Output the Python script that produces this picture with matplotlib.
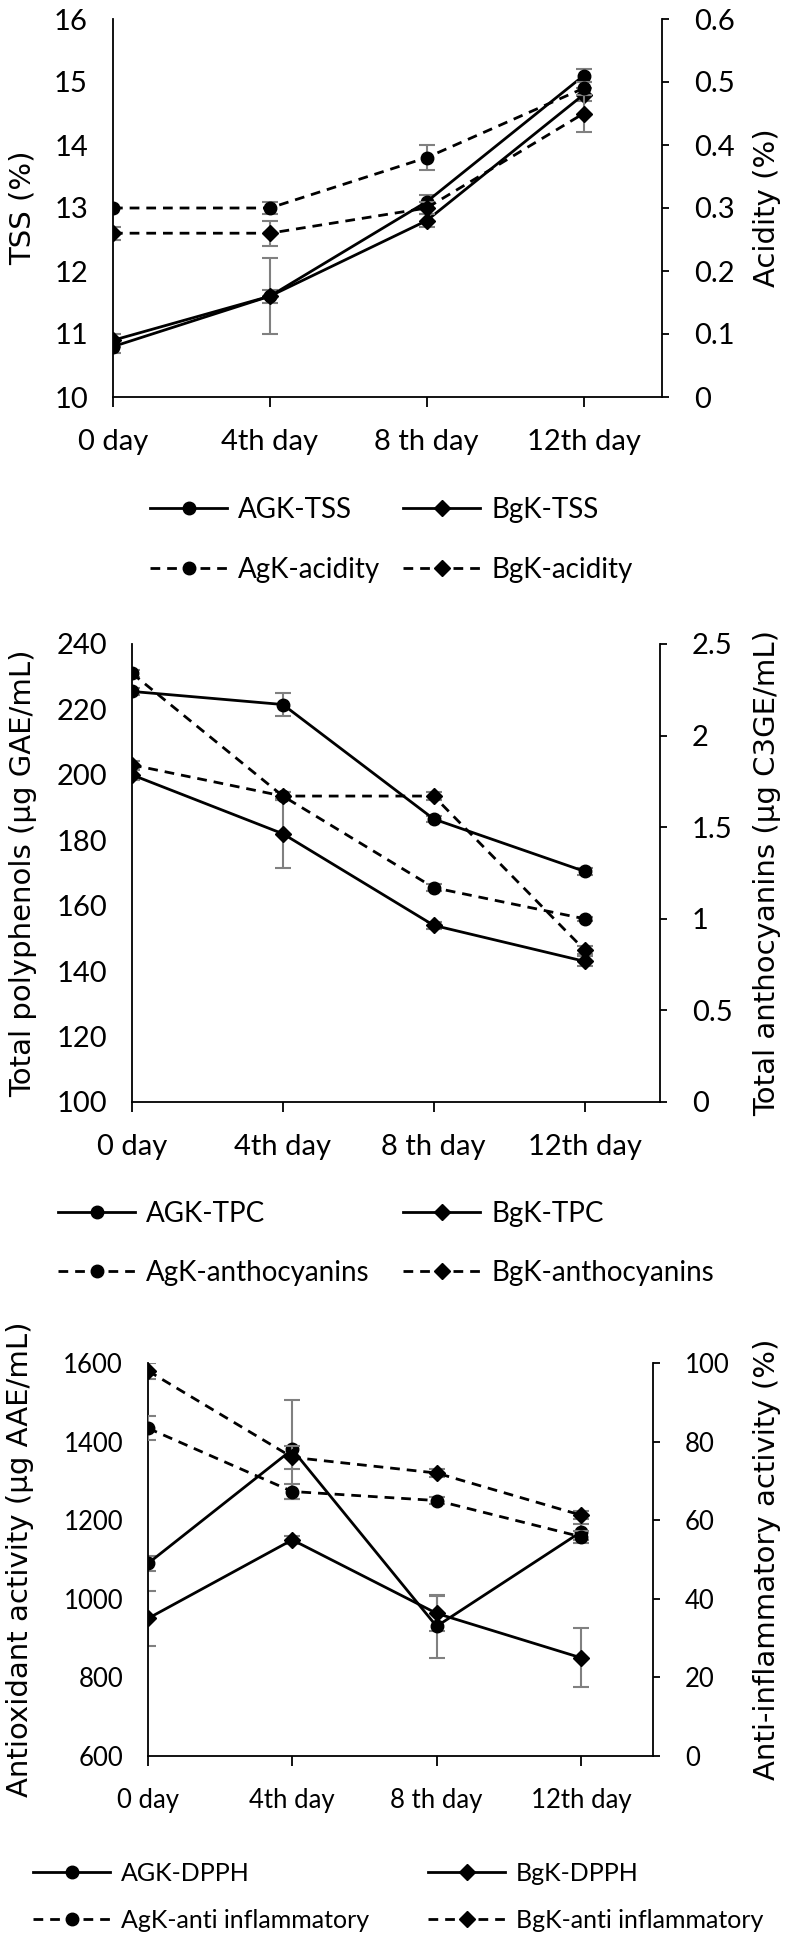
import matplotlib.pyplot as plt

# categories
days = ['0 day', '4th day', '8 th day', '12th day']

# panel 1 : TSS (left) / acidity (right)
agk_tss = [10.8, 11.6, 13.1, 15.1]
agk_tss_err = [0.1, 0.6, 0.1, 0.1]
bgk_tss = [10.9, 11.6, 12.8, 14.8]
bgk_tss_err = [0.1, 0.1, 0.1, 0.1]
agk_acid = [0.30, 0.30, 0.38, 0.49]
agk_acid_err = [0.0, 0.01, 0.02, 0.01]
bgk_acid = [0.26, 0.26, 0.30, 0.45]
bgk_acid_err = [0.01, 0.02, 0.01, 0.03]

# panel 2 : polyphenols (left) / anthocyanins (right)
agk_tpc = [225.5, 221.5, 186.5, 170.5]
agk_tpc_err = [1, 3.5, 1, 1]
bgk_tpc = [200, 182, 154, 143]
bgk_tpc_err = [1.5, 10.5, 1, 1.5]
agk_anth = [2.34, 1.67, 1.17, 1.0]
agk_anth_err = [0.02, 0.02, 0.02, 0.01]
bgk_anth = [1.84, 1.67, 1.67, 0.83]
bgk_anth_err = [0.02, 0.02, 0.02, 0.02]

# panel 3 : DPPH (left) / anti inflammatory (right)
agk_dpph = [1090, 1380, 930, 1170]
agk_dpph_err = [20, 125, 80, 20]
bgk_dpph = [950, 1150, 963, 850]
bgk_dpph_err = [70, 10, 45, 75]
agk_anti = [83.4, 67.3, 65, 55.8]
agk_anti_err = [3, 2, 1, 1.5]
bgk_anti = [98, 76, 72, 61.3]
bgk_anti_err = [2, 3, 1, 1]

W, H = 796, 1941
TICK_FONT = ['Lato', 'DejaVu Sans']
LABEL_FONT = ['DejaVu Sans']
GRAY = '#808080'

fig = plt.figure(figsize=(W / 100, H / 100), dpi=100)


def add_axes(left, right, top, bottom):
    return fig.add_axes([left / W, 1 - bottom / H, (right - left) / W, (bottom - top) / H])


def draw_series(ax, y, err, marker, dashed, label):
    x = list(range(len(days)))
    ax.errorbar(x, y, yerr=err, fmt='none', ecolor=GRAY, elinewidth=1.5,
                capsize=6, capthick=1.5, zorder=2)
    ls = (0, (3.5, 2.5)) if dashed else '-'
    ms = 9 if marker == 'o' else 8
    line, = ax.plot(x, y, color='black', lw=2, linestyle=ls, marker=marker,
                    markersize=ms, markerfacecolor='black', markeredgecolor='black',
                    label=label, zorder=3)
    return line


def panel(box, left_lim, left_ticks, right_lim, right_ticks, right_fmt,
          series, left_label, right_label, label_x, fs, leg):
    left, right, top, bottom = box
    ax = add_axes(left, right, top, bottom)
    ax2 = ax.twinx()
    ax.set_xlim(0, 3.5)
    ax.set_ylim(*left_lim)
    ax2.set_ylim(*right_lim)
    ax.set_yticks(left_ticks)
    ax.set_yticklabels([str(t) for t in left_ticks], fontfamily=TICK_FONT, fontsize=fs)
    ax2.set_yticks(right_ticks)
    ax2.set_yticklabels([right_fmt(t) for t in right_ticks], fontfamily=TICK_FONT, fontsize=fs)
    ax.set_xticks(range(len(days)))
    ax.set_xticklabels(days, fontfamily=TICK_FONT, fontsize=fs)
    for a in (ax, ax2):
        a.spines['top'].set_visible(False)
        for s in a.spines.values():
            s.set_linewidth(1.3)
    ax.spines['right'].set_visible(False)
    ax2.spines['left'].set_visible(False)
    ax2.spines['bottom'].set_visible(False)
    ax.tick_params(axis='y', length=0, pad=18)
    ax.tick_params(axis='x', length=7, width=1.3, pad=16)
    ax2.tick_params(axis='y', length=5, width=1.3, direction='out', pad=18)

    handles = []
    for (on_right, y, err, marker, dashed, label) in series:
        handles.append(draw_series(ax2 if on_right else ax, y, err, marker, dashed, label))

    lx, rx = label_x
    cy = 1 - (top + bottom) / 2 / H
    fig.text(lx / W, cy, left_label, rotation=90, ha='center', va='center',
             fontfamily=LABEL_FONT, fontsize=21)
    fig.text(rx / W, cy, right_label, rotation=90, ha='center', va='center',
             fontfamily=LABEL_FONT, fontsize=21)

    # one legend per column: solid pair on the first row, dashed pair below
    col1_x, col2_x, leg_top, leg_fs, row_gap = leg
    em = leg_fs * 100 / 72
    for cx, pair in ((col1_x, (handles[0], handles[2])), (col2_x, (handles[1], handles[3]))):
        fig.legend(pair, [h.get_label() for h in pair], loc='upper left',
                   bbox_to_anchor=(cx / W, 1 - leg_top / H),
                   frameon=False, borderpad=0, borderaxespad=0,
                   handlelength=77 / em, handletextpad=11 / em,
                   labelspacing=(row_gap - 0.93 * em) / em,
                   prop={'family': TICK_FONT, 'size': leg_fs})


panel((113, 662, 19, 397), (10, 16), [10, 11, 12, 13, 14, 15, 16],
      (0, 0.6), [0, 0.1, 0.2, 0.3, 0.4, 0.5, 0.6],
      lambda t: '0' if t == 0 else f'{t:.1f}',
      [(False, agk_tss, agk_tss_err, 'o', False, 'AGK-TSS'),
       (False, bgk_tss, bgk_tss_err, 'D', False, 'BgK-TSS'),
       (True, agk_acid, agk_acid_err, 'o', True, 'AgK-acidity'),
       (True, bgk_acid, bgk_acid_err, 'D', True, 'BgK-acidity')],
      'TSS (%)', 'Acidity (%)', (23, 767), 21, (150, 403, 497, 20, 60))

panel((132, 660, 644, 1102), (100, 240), [100, 120, 140, 160, 180, 200, 220, 240],
      (0, 2.5), [0, 0.5, 1, 1.5, 2, 2.5],
      lambda t: f'{t:g}',
      [(False, agk_tpc, agk_tpc_err, 'o', False, 'AGK-TPC'),
       (False, bgk_tpc, bgk_tpc_err, 'D', False, 'BgK-TPC'),
       (True, agk_anth, agk_anth_err, 'o', True, 'AgK-anthocyanins'),
       (True, bgk_anth, bgk_anth_err, 'D', True, 'BgK-anthocyanins')],
      'Total polyphenols (µg GAE/mL)', 'Total anthocyanins (µg C3GE/mL)',
      (23, 767), 21, (58, 403, 1201, 20, 59))

panel((148, 653, 1363, 1756), (600, 1600), [600, 800, 1000, 1200, 1400, 1600],
      (0, 100), [0, 20, 40, 60, 80, 100],
      lambda t: f'{t:g}',
      [(False, agk_dpph, agk_dpph_err, 'o', False, 'AGK-DPPH'),
       (False, bgk_dpph, bgk_dpph_err, 'D', False, 'BgK-DPPH'),
       (True, agk_anti, agk_anti_err, 'o', True, 'AgK-anti inflammatory'),
       (True, bgk_anti, bgk_anti_err, 'D', True, 'BgK-anti inflammatory')],
      'Antioxidant activity (µg AAE/mL)', 'Anti-inflammatory activity (%)',
      (20, 767), 18.5, (33, 428, 1862, 18, 47))

fig.savefig('out.png', dpi=100)
